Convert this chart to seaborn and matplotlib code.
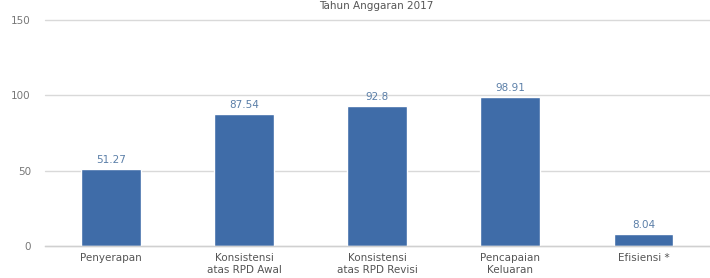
import matplotlib
matplotlib.use("Agg")
import matplotlib.pyplot as plt
import seaborn as sns
import pandas as pd

categories = ["Penyerapan", "Konsistensi\natas RPD Awal", "Konsistensi\natas RPD Revisi",
              "Pencapaian\nKeluaran", "Efisiensi *"]
values = [51.27, 87.54, 92.8, 98.91, 8.04]
value_labels = ["51.27", "87.54", "92.8", "98.91", "8.04"]
yticks = [0, 50, 100, 150]
title = "Tahun Anggaran 2017"

sns.set_style("white")
plt.rcParams['font.family'] = ['DejaVu Sans']

df = pd.DataFrame({"cat": categories, "val": values})

fig = plt.figure(figsize=(7.10, 2.78), dpi=100)
ax = fig.add_axes([0.063, 0.115, 0.937, 0.813])
sns.barplot(data=df, x="cat", y="val", color="#3f6ca8", saturation=1, width=0.45, ax=ax)

ax.set_ylim(0, 150)
ax.set_xlim(-0.5, len(categories) - 0.5)
ax.set_yticks(yticks)
ax.set_yticklabels([str(t) for t in yticks])
ax.yaxis.grid(True, color="#d9d9d9", linewidth=1)
for gl in ax.get_ygridlines():
    gl.set_clip_on(False)
ax.set_axisbelow(True)
for s in ax.spines.values():
    s.set_visible(False)
ax.spines["bottom"].set_visible(True)
ax.spines["bottom"].set_color("#d0d0d0")
ax.spines["bottom"].set_linewidth(1)
ax.set_xlabel("")
ax.set_ylabel("")
ax.tick_params(axis="y", length=0, pad=10, labelsize=7.5, labelcolor="#777777")
ax.tick_params(axis="x", length=0, pad=5, labelsize=7.5, labelcolor="#555555")

for i, (v, lab) in enumerate(zip(values, value_labels)):
    ax.annotate(lab, (i, v), xytext=(0, 3), textcoords="offset points",
                ha="center", va="bottom", fontsize=7.5, color="#5b7fa8")

fig.text(0.53, 0.998, title, ha="center", va="top", fontsize=7.5, color="#555555")

fig.savefig("out.png", dpi=100)
